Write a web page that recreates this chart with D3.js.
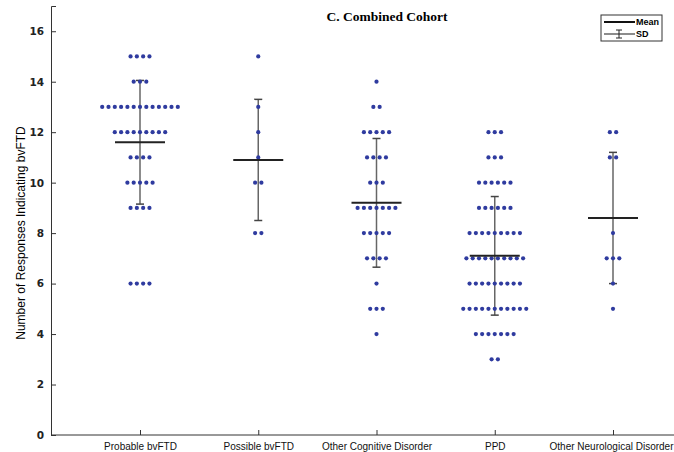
<!doctype html>
<html lang="en">
<head>
<meta charset="utf-8">
<script src="https://d3js.org/d3.v7.min.js"></script>
<style>
  body { margin: 0; background: #fff; }
  svg text { font-family: "Liberation Sans", Arial, sans-serif; }
  .title { font-family: "Liberation Serif", "DejaVu Serif", serif !important; font-weight: bold; font-size: 13.5px; }
</style>
</head>
<body>
<div id="chart"></div>
<script>
var width = 674, height = 452;

// categories and values
var categories = ["Probable bvFTD", "Possible bvFTD", "Other Cognitive Disorder", "PPD", "Other Neurological Disorder"];
// score levels and number of subjects at each level, per category
var probableCounts = [[15,4],[14,3],[13,13],[12,9],[11,4],[10,5],[9,4],[6,4]];
var possibleCounts = [[15,1],[13,1],[12,1],[11,1],[10,2],[8,2]];
var otherCogCounts = [[14,1],[13,2],[12,5],[11,4],[10,3],[9,7],[8,5],[7,4],[6,1],[5,3],[4,1]];
var ppdCounts = [[12,3],[11,3],[10,6],[9,6],[8,9],[7,10],[6,9],[5,11],[4,7],[3,2]];
var otherNeuroCounts = [[12,2],[11,2],[8,1],[7,3],[6,1],[5,1]];
var means = [11.6, 10.9, 9.2, 7.1, 8.6];
var sds = [2.45, 2.4, 2.55, 2.35, 2.6];
var yTicks = [0, 2, 4, 6, 8, 10, 12, 14, 16];

var counts = [probableCounts, possibleCounts, otherCogCounts, ppdCounts, otherNeuroCounts];

var svg = d3.select("#chart").append("svg")
    .attr("width", width)
    .attr("height", height);

var x = d3.scalePoint().domain(categories).range([140, 613]);
var y = d3.scaleLinear().domain([0, 17]).range([435, 6]);

// axes
var xAxis = svg.append("g").attr("transform", "translate(0,435)")
  .call(d3.axisBottom(x).tickSize(-5).tickPadding(8));
xAxis.select(".domain").attr("d", "M51,0H674");
xAxis.selectAll("text").style("font-size", "10px").attr("fill", "#111");
// last label sits a bit left of its tick, as in the original
xAxis.selectAll(".tick text").filter(function(d) { return d == "Other Neurological Disorder"; })
  .attr("text-anchor", "end").attr("x", 60);

var yAxis = svg.append("g").attr("transform", "translate(51,0)")
  .call(d3.axisLeft(y).tickValues(yTicks).tickSize(-5).tickPadding(7));
yAxis.selectAll("text").style("font-family", "'DejaVu Sans', sans-serif")
  .style("font-size", "10.5px").style("font-weight", "bold").attr("fill", "#222");
svg.selectAll(".domain").attr("stroke", "#333");
svg.selectAll(".tick line").attr("stroke", "#333");

svg.append("text")
  .attr("transform", "translate(25,233) rotate(-90)")
  .attr("text-anchor", "middle")
  .style("font-size", "12px")
  .text("Number of Responses Indicating bvFTD");

svg.append("text").attr("class", "title")
  .attr("x", 387).attr("y", 21)
  .attr("text-anchor", "middle")
  .text("C. Combined Cohort");

// dots
var dotGap = 6.3;
var dots = [];
counts.forEach(function(rows, ci) {
  rows.forEach(function(r) {
    for (var i = 0; i < r[1]; i++) {
      dots.push({ cat: categories[ci], value: r[0], off: (i - (r[1] - 1) / 2) * dotGap });
    }
  });
});

// SD bars
var sdG = svg.append("g");
categories.forEach(function(c, i) {
  var cx = x(c);
  sdG.append("line").attr("x1", cx).attr("x2", cx)
    .attr("y1", y(means[i] + sds[i])).attr("y2", y(means[i] - sds[i]))
    .attr("stroke", "#666").attr("stroke-width", 1.5);
  [means[i] + sds[i], means[i] - sds[i]].forEach(function(v) {
    sdG.append("line").attr("x1", cx - 4).attr("x2", cx + 4)
      .attr("y1", y(v)).attr("y2", y(v))
      .attr("stroke", "#444").attr("stroke-width", 1.5);
  });
});

svg.append("g").selectAll("circle")
  .data(dots)
  .enter().append("circle")
  .attr("cx", function(d) { return x(d.cat) + d.off; })
  .attr("cy", function(d) { return y(d.value); })
  .attr("r", 2.1)
  .attr("fill", "#2f3b9f");

// mean lines
svg.append("g").selectAll("line")
  .data(categories)
  .enter().append("line")
  .attr("x1", function(d) { return x(d) - 25; })
  .attr("x2", function(d) { return x(d) + 25; })
  .attr("y1", function(d, i) { return y(means[i]); })
  .attr("y2", function(d, i) { return y(means[i]); })
  .attr("stroke", "#222").attr("stroke-width", 2);

// legend
var lg = svg.append("g").attr("transform", "translate(601,15)");
lg.append("rect").attr("width", 61).attr("height", 26)
  .attr("fill", "#fff").attr("stroke", "#333").attr("stroke-width", 1);
lg.append("line").attr("x1", 3).attr("x2", 34).attr("y1", 7).attr("y2", 7)
  .attr("stroke", "#111").attr("stroke-width", 2);
lg.append("text").attr("x", 35).attr("y", 10).style("font-size", "9px").style("font-weight", "bold").text("Mean");
lg.append("line").attr("x1", 3).attr("x2", 34).attr("y1", 19).attr("y2", 19)
  .attr("stroke", "#666").attr("stroke-width", 1.5);
lg.append("line").attr("x1", 18).attr("x2", 18).attr("y1", 15).attr("y2", 23)
  .attr("stroke", "#222").attr("stroke-width", 1);
lg.append("line").attr("x1", 15).attr("x2", 21).attr("y1", 15).attr("y2", 15)
  .attr("stroke", "#222").attr("stroke-width", 1);
lg.append("line").attr("x1", 15).attr("x2", 21).attr("y1", 23).attr("y2", 23)
  .attr("stroke", "#222").attr("stroke-width", 1);
lg.append("text").attr("x", 35).attr("y", 22).style("font-size", "9px").style("font-weight", "bold").text("SD");
</script>
</body>
</html>
